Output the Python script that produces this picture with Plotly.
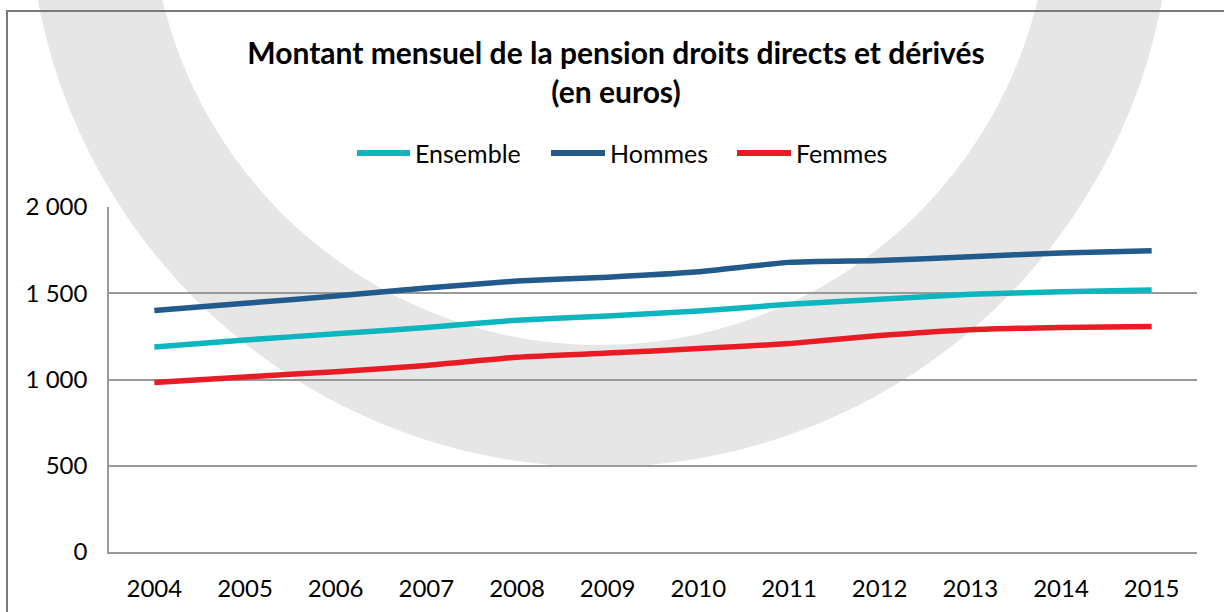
import numpy as np
import plotly.graph_objects as go

# ---- data ----
years = ["2004", "2005", "2006", "2007", "2008", "2009", "2010", "2011", "2012", "2013", "2014", "2015"]
ensemble = [1188, 1229, 1265, 1302, 1344, 1368, 1397, 1436, 1465, 1494, 1509, 1519]
hommes = [1400, 1442, 1484, 1530, 1571, 1593, 1624, 1679, 1690, 1711, 1734, 1747]
femmes = [982, 1015, 1045, 1081, 1129, 1153, 1179, 1208, 1255, 1289, 1302, 1307]
series_names = ["Ensemble", "Hommes", "Femmes"]
series_colors = ["#0db5be", "#215a8b", "#e81c25"]
y_tickvals = [0, 500, 1000, 1500, 2000]
y_ticktext = ["0", "500", "1 000", "1 500", "2 000"]

title_text = "Montant mensuel de la pension droits directs et dérivés<br>(en euros)"

# ---- layout geometry (pixels) ----
W, H = 1224, 612
L, R, T, B = 109, 27, 207, 60
PW, PH = W - L - R, H - T - B


def px2paper(px, py):
    return (px - L) / PW, (H - B - py) / PH


FONT = "Lato"

fig = go.Figure()
for name, vals, col in zip(series_names, [ensemble, hommes, femmes], series_colors):
    fig.add_trace(go.Scatter(
        x=years, y=vals, name=name, mode="lines",
        line=dict(color=col, width=5.5, shape="spline", smoothing=0.5),
        showlegend=False, hoverinfo="x+y+name",
    ))

shapes = []

# background watermark ring
cx, cy, r_out, r_in = 600, -105, 572, 450
th = np.linspace(0, 2 * np.pi, 241)


def circle_path(r, reverse=False):
    t = th[::-1] if reverse else th
    pts = [px2paper(cx + r * np.cos(a), cy + r * np.sin(a)) for a in t]
    s = "M " + " L ".join(f"{x:.5f},{y:.5f}" for x, y in pts) + " Z"
    return s


shapes.append(dict(type="path", xref="paper", yref="paper",
                   path=circle_path(r_out) + " " + circle_path(r_in, True),
                   fillcolor="#e6e6e6", line=dict(width=0), layer="below"))

# outer chart frame
x0, y0 = px2paper(7, 625)
x1, y1 = px2paper(1235, 11)
shapes.append(dict(type="rect", xref="paper", yref="paper", x0=x0, y0=y0, x1=x1, y1=y1,
                   line=dict(color="#7a7a7a", width=2), fillcolor="rgba(0,0,0,0)", layer="below"))

# manual legend
annotations = []
legend_items = [(357, 410, 413), (551, 605, 608), (737, 791, 794)]
ly = 153
for (lx0, lx1, tx), name, col in zip(legend_items, series_names, series_colors):
    ax0, ay = px2paper(lx0, ly)
    ax1, _ = px2paper(lx1, ly)
    shapes.append(dict(type="line", xref="paper", yref="paper", x0=ax0, x1=ax1, y0=ay, y1=ay,
                       line=dict(color=col, width=6)))
    tx_p, _ = px2paper(tx, ly)
    annotations.append(dict(text=name, xref="paper", yref="paper", x=tx_p, y=ay,
                            xanchor="left", yanchor="middle", showarrow=False,
                            font=dict(family=FONT, size=25, color="#000000")))

fig.update_layout(
    width=W, height=H,
    margin=dict(l=L, r=R, t=T, b=B, autoexpand=False),
    paper_bgcolor="white",
    plot_bgcolor="rgba(0,0,0,0)",
    title=dict(text=title_text, x=616 / W, xanchor="center", xref="container",
               y=1 - 64 / H, yanchor="middle", yref="container",
               font=dict(family=FONT, size=30, color="#000000", weight="bold")),
    shapes=shapes,
    annotations=annotations,
    showlegend=False,
    xaxis=dict(type="category", range=[-0.5, 11.5], showgrid=False,
               showline=True, linecolor="#9a9a9a", linewidth=1.5,
               ticks="", tickfont=dict(family=FONT, size=24, color="#000000"),
               ticklabelstandoff=14, fixedrange=True),
    yaxis=dict(range=[0, 2000], tickvals=y_tickvals, ticktext=y_ticktext,
               showgrid=True, gridcolor="#9a9a9a", gridwidth=1.5,
               showline=True, linecolor="#9a9a9a", linewidth=1.5,
               zeroline=False, ticks="",
               tickfont=dict(family=FONT, size=24, color="#000000"),
               ticklabelstandoff=15, fixedrange=True),
)

fig.write_html("out.html", config={"displayModeBar": False},
               post_script="document.body.style.margin='0px';document.body.style.overflow='hidden';")
